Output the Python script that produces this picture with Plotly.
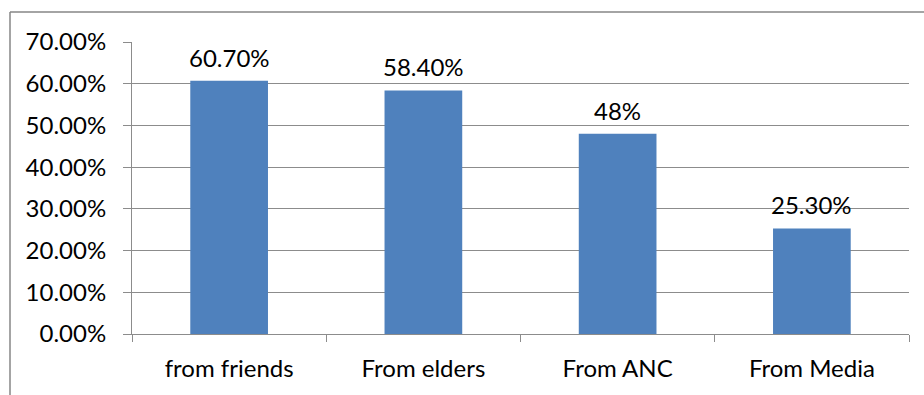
import plotly.graph_objects as go

# Sources of information and share of respondents (%)
categories = ["from friends", "From elders", "From ANC", "From Media"]
values = [60.7, 58.4, 48.0, 25.3]
value_labels = ["60.70%", "58.40%", "48%", "25.30%"]
y_ticks = [0, 10, 20, 30, 40, 50, 60, 70]
y_tick_labels = ["0.00%", "10.00%", "20.00%", "30.00%", "40.00%", "50.00%", "60.00%", "70.00%"]

FONT = "Lato"
FSIZE = 24
GRID = "#8c8c8c"

fig = go.Figure()
fig.add_trace(go.Bar(
    x=categories,
    y=values,
    width=0.4,
    marker=dict(color="#4f81bd", line=dict(width=0)),
    hoverinfo="skip",
))

for cat, val, lab in zip(categories, values, value_labels):
    fig.add_annotation(
        x=cat, y=val, text=lab, showarrow=False,
        xref="x", yref="y", yanchor="bottom", yshift=7,
        font=dict(family=FONT, size=FSIZE, color="black"),
    )

# outer chart frame (runs off the right and bottom edges)
fig.add_shape(type="line", xref="paper", yref="paper",
              x0=-122 / 777, x1=1.1, y0=1 + 30 / 292.6, y1=1 + 30 / 292.6,
              line=dict(color="#868686", width=1.5))
fig.add_shape(type="line", xref="paper", yref="paper",
              x0=-122 / 777, x1=-122 / 777, y0=1 + 30 / 292.6, y1=-0.3,
              line=dict(color="#868686", width=1.5))

fig.update_layout(
    width=924, height=395,
    margin=dict(l=132, r=15, t=42, b=61),
    paper_bgcolor="white", plot_bgcolor="white",
    showlegend=False,
    bargap=0.6,
    font=dict(family=FONT, size=FSIZE, color="black"),
    xaxis=dict(
        showgrid=False, showline=True, linecolor=GRID, linewidth=1,
        ticks="outside", tickson="boundaries", ticklen=7, tickcolor=GRID,
        ticklabelstandoff=13,
        tickfont=dict(family=FONT, size=FSIZE, color="black"),
    ),
    yaxis=dict(
        range=[0, 70], tickvals=y_ticks, ticktext=y_tick_labels,
        showgrid=True, gridcolor=GRID, gridwidth=1,
        showline=True, linecolor=GRID, linewidth=1,
        ticks="outside", ticklen=8, tickcolor=GRID,
        ticklabelstandoff=12, zeroline=False,
        tickfont=dict(family=FONT, size=FSIZE, color="black"),
    ),
)

fig.write_html("out.html")
